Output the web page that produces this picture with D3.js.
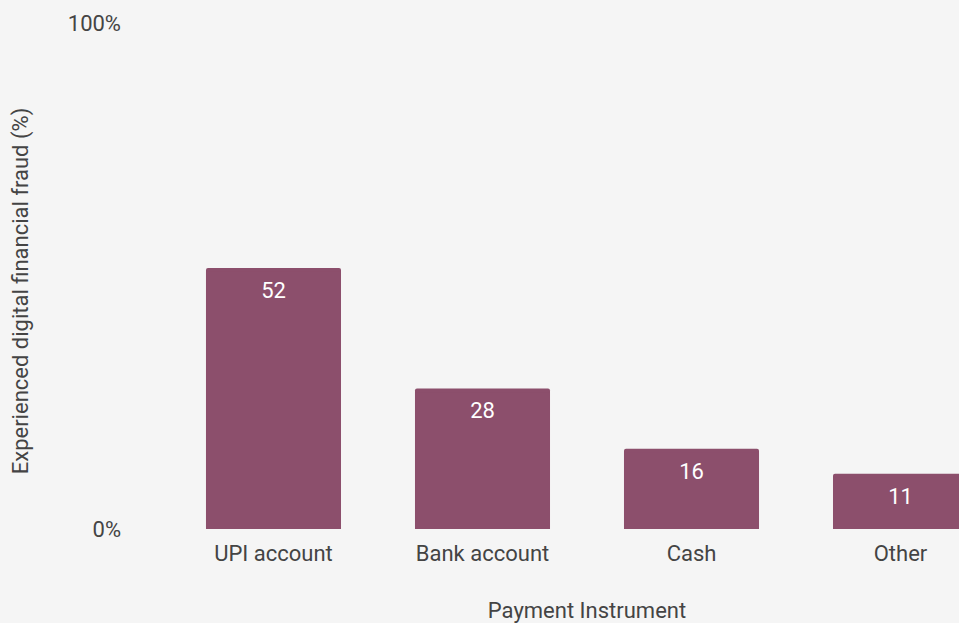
<!DOCTYPE html>
<html>
<head>
<meta charset="utf-8">
<script src="https://cdn.jsdelivr.net/npm/d3@7"></script>
<style>
  html, body { margin: 0; padding: 0; background: #f5f5f5; overflow: hidden; }
  svg { display: block; font-family: Roboto, "Noto Sans", sans-serif; }
</style>
</head>
<body>
<svg id="chart" width="959" height="623"></svg>
<script>
// Share of respondents who experienced digital financial fraud, by payment instrument
const categories = ["UPI account", "Bank account", "Cash", "Other"];
const values = [52, 28, 16, 11];
const yTicks = [0, 100];

const svg = d3.select("#chart");
const W = 959, H = 623;
const FS = "22px";

svg.append("rect").attr("width", W).attr("height", H).attr("fill", "#f5f5f5");

const x = d3.scaleBand()
  .domain(categories)
  .range([132, 1042])
  .padding(0.354);

const y = d3.scaleLinear()
  .domain([0, 100])
  .range([529, 27]);

// y axis: tick labels only
const yAxis = d3.axisLeft(y)
  .tickValues(yTicks)
  .tickFormat(d => d + "%")
  .tickSize(0)
  .tickPadding(0);

const gy = svg.append("g").attr("transform", "translate(121,0)").call(yAxis);
gy.select(".domain").remove();
gy.selectAll("text")
  .attr("fill", "#444")
  .attr("dy", d => d === 0 ? "0.35em" : "0.18em")
  .style("font-size", FS)
  .style("font-family", "Roboto, sans-serif");

// bars (rounded top corners)
svg.append("g").selectAll("rect")
  .data(values)
  .join("rect")
  .attr("x", (d, i) => x(categories[i]))
  .attr("width", x.bandwidth())
  .attr("y", d => y(d))
  .attr("height", d => y(0) - y(d))
  .attr("rx", 2)
  .attr("fill", "#8c4f6c");

// square off the bottom corners
svg.append("g").selectAll("rect")
  .data(values)
  .join("rect")
  .attr("x", (d, i) => x(categories[i]))
  .attr("width", x.bandwidth())
  .attr("y", d => y(d) + 4)
  .attr("height", d => y(0) - y(d) - 4)
  .attr("fill", "#8c4f6c");

// value labels inside bars
svg.append("g").selectAll("text")
  .data(values)
  .join("text")
  .attr("x", (d, i) => x(categories[i]) + x.bandwidth() / 2)
  .attr("y", d => y(d) + 30)
  .attr("text-anchor", "middle")
  .attr("fill", "#ffffff")
  .style("font-size", FS)
  .text(d => d);

// x axis: category labels
const xAxis = d3.axisBottom(x).tickSize(0).tickPadding(0);
const gx = svg.append("g").attr("transform", "translate(0,561)").call(xAxis);
gx.select(".domain").remove();
gx.selectAll("text")
  .attr("fill", "#444")
  .attr("y", 0)
  .attr("dy", 0)
  .style("font-size", FS)
  .style("font-family", "Roboto, sans-serif");

// axis titles
svg.append("text")
  .attr("x", 587)
  .attr("y", 618)
  .attr("text-anchor", "middle")
  .attr("fill", "#444")
  .style("font-size", FS)
  .text("Payment Instrument");

svg.append("text")
  .attr("transform", "translate(28,291) rotate(-90)")
  .attr("text-anchor", "middle")
  .attr("fill", "#444")
  .style("font-size", FS)
  .text("Experienced digital financial fraud (%)");
</script>
</body>
</html>
